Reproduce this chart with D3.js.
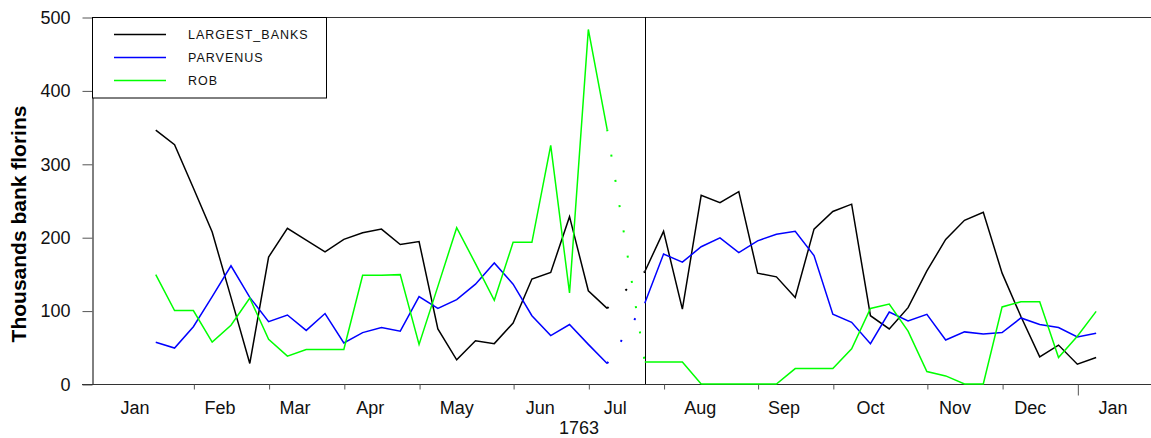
<!DOCTYPE html>
<html>
<head>
<meta charset="utf-8">
<script src="https://cdn.jsdelivr.net/npm/d3@7"></script>
<style>
body { margin: 0; background: #fff; }
svg { display: block; font-family: "Liberation Sans", Arial, sans-serif; }
</style>
</head>
<body>
<div id="chart"></div>
<script>
// weekly values, 1763 (null = week without data, bridged with a dotted line)
var largestBanks = [346,326,267,207,118,28,173,212,196,180,197,206,211,190,194,75,33,59,55,83,143,152,228,127,103,null,
    153,208,102,257,247,262,151,146,118,211,235,245,93,75,104,154,197,223,234,151,92,37,53,27,36];
var parvenus = [57,49,78,119,161,118,85,94,73,96,56,70,77,72,119,103,115,136,165,136,93,66,81,54,28,null,
    110,177,166,187,199,179,195,204,208,175,95,84,55,98,86,95,60,71,68,70,90,81,77,64,69];
var rob = [149,100,100,57,80,117,61,38,47,47,47,148,148,149,54,133,213,164,114,193,193,325,124,483,347,null,
    30,30,30,0,0,0,0,0,21,21,21,48,103,109,72,17,11,0,0,105,112,112,36,65,99];

var seriesNames = ["LARGEST_BANKS", "PARVENUS", "ROB"];
var seriesColors = ["#000000", "#0000ff", "#00ff00"];

// month boundaries (week index) and label positions
var monthTicks = [2, 6, 10, 14, 19, 23, 27, 32, 36, 41, 45, 49];
var yearTick = 49;
var monthLabels = ["Jan","Feb","Mar","Apr","May","Jun","Jul","Aug","Sep","Oct","Nov","Dec","Jan"];
var monthLabelPos = [-1.1, 3.42, 7.41, 11.4, 16.0, 20.44, 24.43, 28.95, 33.4, 38.0, 42.5, 46.5, 50.9];
var breakWeek = 26;
var yTicks = [0, 100, 200, 300, 400, 500];

var width = 1151, height = 438;

var svg = d3.select("#chart")
    .append("svg")
    .attr("width", width)
    .attr("height", height);

var x = d3.scaleLinear()
    .domain([-3.39, 52.97])
    .range([92, 1152]);

var y = d3.scaleLinear()
    .domain([0, 500])
    .range([384, 17]);

// top frame line
svg.append("line")
    .attr("x1", 92).attr("x2", width)
    .attr("y1", y(500) + 0.5).attr("y2", y(500) + 0.5)
    .style("stroke", "#333")
    .style("stroke-width", 1.2);

// y axis
var yAxis = svg.append("g")
    .attr("transform", "translate(92.5,0.5)")
    .call(d3.axisLeft(y).tickValues(yTicks).tickSize(10).tickSizeOuter(0).tickPadding(12));
yAxis.select(".domain").style("stroke", "#000");
yAxis.selectAll(".tick line").style("stroke", "#555");
yAxis.selectAll("text")
    .style("font-size", "18px")
    .style("font-family", "'Liberation Sans', Arial, sans-serif")
    .style("fill", "#111");

svg.append("text")
    .attr("transform", "translate(26," + 224 + ") rotate(-90)")
    .style("text-anchor", "middle")
    .style("font-size", "21px")
    .style("font-weight", "bold")
    .text("Thousands bank florins");

// x axis
var xAxis = svg.append("g")
    .attr("transform", "translate(0.5," + (y(0) + 0.5) + ")")
    .call(d3.axisBottom(x).tickValues(monthTicks).tickSize(5).tickSizeOuter(0).tickFormat(""));
xAxis.select(".domain")
    .attr("d", "M" + (82 - 0.5) + ",0H" + width)
    .style("stroke", "#333")
    .style("stroke-width", 1.2);
xAxis.selectAll(".tick line")
    .style("stroke", "#555")
    .attr("y2", function(d) { return d === yearTick ? 11 : 5; });

svg.append("g")
    .selectAll("text")
    .data(monthLabels)
    .enter()
    .append("text")
    .attr("x", function(d, i) { return x(monthLabelPos[i]); })
    .attr("y", 414)
    .style("text-anchor", "middle")
    .style("font-size", "18px")
    .style("fill", "#111")
    .text(function(d) { return d; });

svg.append("text")
    .attr("x", x(22.5))
    .attr("y", 434)
    .style("text-anchor", "middle")
    .style("font-size", "18px")
    .style("fill", "#111")
    .text("1763");

// vertical break line
svg.append("line")
    .attr("x1", Math.round(x(breakWeek)) + 0.5).attr("x2", Math.round(x(breakWeek)) + 0.5)
    .attr("y1", y(500)).attr("y2", y(0))
    .style("stroke", "#000")
    .style("stroke-width", 1);

// series lines
var line = d3.line()
    .defined(function(d) { return d != null; })
    .x(function(d, i) { return x(i); })
    .y(function(d) { return y(d); });

[largestBanks, parvenus, rob].forEach(function(values, k) {
    // dotted bridges over missing weeks
    var gaps = [];
    values.forEach(function(v, i) {
        if (v == null) {
            var a = i - 1, b = i + 1;
            while (a >= 0 && values[a] == null) a--;
            while (b < values.length && values[b] == null) b++;
            if (a >= 0 && b < values.length) gaps.push([[a, values[a]], [b, values[b]]]);
        }
    });
    svg.selectAll(null)
        .data(gaps)
        .enter()
        .append("path")
        .attr("d", d3.line().x(function(p) { return x(p[0]); }).y(function(p) { return y(p[1]); }))
        .style("fill", "none")
        .style("stroke", seriesColors[k])
        .style("stroke-width", 2)
        .style("stroke-dasharray", "2,23.6");

    svg.append("path")
        .datum(values)
        .attr("d", line)
        .style("fill", "none")
        .style("stroke", seriesColors[k])
        .style("stroke-width", 1.5)
        .style("stroke-linejoin", "miter");
});

// legend
var legend = svg.append("g");
legend.append("rect")
    .attr("x", 92.5).attr("y", 17.5)
    .attr("width", 234).attr("height", 80.5)
    .style("fill", "#fff")
    .style("stroke", "#000");
var legendItems = legend.selectAll(".item")
    .data(seriesNames)
    .enter()
    .append("g")
    .attr("transform", function(d, i) { return "translate(0," + (34.5 + i * 23) + ")"; });
legendItems.append("line")
    .attr("x1", 114).attr("x2", 166)
    .style("stroke", function(d, i) { return seriesColors[i]; })
    .style("stroke-width", 1.5);
legendItems.append("text")
    .attr("x", 188)
    .attr("dy", "0.35em")
    .style("font-size", "12.5px")
    .style("letter-spacing", "1px")
    .style("fill", "#111")
    .text(function(d) { return d; });
</script>
</body>
</html>
